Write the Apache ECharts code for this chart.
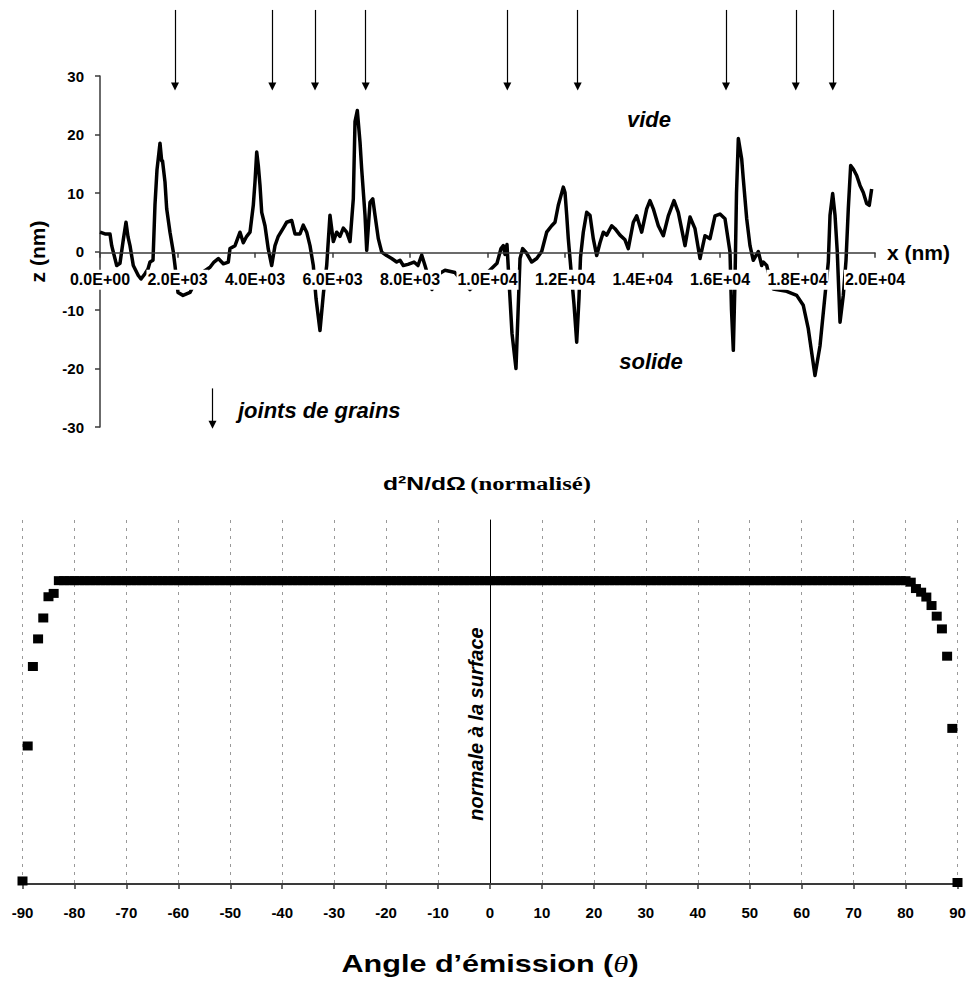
<!DOCTYPE html>
<html><head><meta charset="utf-8">
<script src="https://cdn.jsdelivr.net/npm/echarts@6/dist/echarts.min.js"></script>
<style>html,body{margin:0;padding:0;background:#fff}#c{width:970px;height:982px}</style>
</head><body><div id="c"></div>
<script>
// ---- Top chart: surface profile z(x) ----
const profileX = [
  0,129,258,302,431,516,601,671,723,774,
  859,988,1058,1161,1239,1290,1368,1419,1471,1523,
  1548,1592,1613,1677,1721,1806,1892,1935,2013,2142,
  2323,2477,2658,2839,2942,3053,3182,3311,3355,3484,
  3613,3698,3786,3871,3956,4000,4044,4085,4129,4173,
  4258,4343,4431,4516,4601,4730,4818,4947,5032,5161,
  5246,5334,5419,5505,5574,5677,5768,5850,5935,6021,
  6108,6193,6279,6366,6452,6537,6581,6640,6710,6753,
  6839,6883,6968,7039,7097,7182,7270,7398,7527,7656,
  7742,7827,7948,8103,8206,8302,8387,8568,8697,8903,
  9161,9342,9548,9755,10013,10245,10348,10408,10451,10503,
  10555,10632,10735,10839,10908,11011,11141,11270,11398,11527,
  11656,11742,11827,11956,12000,12044,12085,12129,12232,12302,
  12361,12400,12472,12560,12645,12730,12818,12903,12988,13076,
  13205,13290,13419,13548,13633,13763,13850,13979,14108,14193,
  14279,14408,14537,14666,14813,14924,15097,15226,15355,15484,
  15613,15742,15871,16000,16129,16258,16297,16344,16387,16426,
  16473,16560,16601,16689,16774,16859,16988,17076,17117,17205,
  17246,17375,17721,17979,18149,18278,18451,18581,18710,18795,
  18839,18908,18968,19026,19097,19182,19252,19311,19372,19440,
  19527,19613,19698,19785,19852,19914
];
const profileZ = [
  3.3,3.0,3.0,1.0,-2.4,-2.0,2.0,5.0,2.5,1.0,
  -2.4,-4.1,-4.7,-3.8,-3.0,-1.8,-1.5,8.0,14.0,17.0,
  18.5,15.5,15.5,11.9,7.3,3.3,-0.1,-2.4,-7.0,-7.5,
  -7.0,-5.0,-3.5,-2.7,-1.8,-1.2,-2.1,-1.8,0.5,1.0,
  3.3,1.5,2.6,3.3,7.9,11.9,17.0,14.7,11.3,6.7,
  4.4,0.4,-2.4,1.0,2.6,4.0,5.0,5.3,3.0,3.0,
  4.5,3.3,1.0,-2.4,-8.0,-13.5,-7.0,-2.4,6.2,1.7,
  3.3,2.6,4.0,3.3,1.7,9.0,22.2,24.1,18.7,14.1,
  6.2,0.2,8.4,9.0,6.2,2.2,-0.1,-0.7,-1.2,-1.8,
  -1.5,-2.4,-2.2,-1.8,-2.4,-0.6,-2.4,-6.5,-4.0,-3.2,
  -3.6,-5.0,-6.5,-5.0,-3.5,-2.0,0.5,1.0,-0.5,1.2,
  -5.0,-14.0,-20.0,-1.2,0.5,-0.3,-1.8,-1.2,0.0,3.3,
  4.4,5.0,7.9,11.0,10.1,6.2,2.2,-1.2,-9.0,-15.5,
  -8.0,-1.0,3.3,6.7,6.2,2.2,-0.7,1.5,3.3,2.8,
  4.4,3.9,2.8,2.0,0.5,5.0,6.1,3.3,7.3,8.7,
  7.3,4.4,2.7,6.1,8.7,6.7,1.0,5.9,3.9,-1.2,
  2.7,2.2,6.1,6.4,5.6,-0.1,-10,-16.9,-5,10,
  19.3,15.8,12.4,5.6,1.0,-1.5,0.0,-2.4,-1.8,-2.4,
  -3.5,-6.4,-6.8,-7.5,-9.2,-13.2,-21.2,-16.1,-7.5,-1.8,
  6.2,9.9,6.2,0.0,-12.1,-7.5,-1.5,7.3,14.7,14.1,
  13.0,11.3,10.1,8.2,7.9,10.7
];
const xTickLabels = ['0.0E+00','2.0E+03','4.0E+03','6.0E+03','8.0E+03','1.0E+04','1.2E+04','1.4E+04','1.6E+04','1.8E+04','2.0E+04'];
// grain-boundary arrows (x positions, nm)
const arrowX = [1935, 4446, 5548, 6856, 10511, 12328, 16155, 17955, 18910];
const arrowTopZ = 41.3, arrowTipZ = 28.2;
const legendArrowX = 2903, legendArrowTopZ = -23.4, legendArrowTipZ = -29.6;

// ---- Bottom chart: angular distribution ----
const angles = [
  -90,-89,-88,-87,-86,-85,-84,-83,-82,-81,-80,-79,-78,-77,-76,-75,-74,-73,-72,-71,
  -70,-69,-68,-67,-66,-65,-64,-63,-62,-61,-60,-59,-58,-57,-56,-55,-54,-53,-52,-51,
  -50,-49,-48,-47,-46,-45,-44,-43,-42,-41,-40,-39,-38,-37,-36,-35,-34,-33,-32,-31,
  -30,-29,-28,-27,-26,-25,-24,-23,-22,-21,-20,-19,-18,-17,-16,-15,-14,-13,-12,-11,
  -10,-9,-8,-7,-6,-5,-4,-3,-2,-1,0,1,2,3,4,5,6,7,8,9,
  10,11,12,13,14,15,16,17,18,19,20,21,22,23,24,25,26,27,28,29,
  30,31,32,33,34,35,36,37,38,39,40,41,42,43,44,45,46,47,48,49,
  50,51,52,53,54,55,56,57,58,59,60,61,62,63,64,65,66,67,68,69,
  70,71,72,73,74,75,76,77,78,79,80,81,82,83,84,85,86,87,88,89,
  90
];
const intensity = [
  0.01,0.455,0.717,0.808,0.877,0.947,0.958,1,1,1,1,1,1,1,1,1,1,1,1,1,
  1,1,1,1,1,1,1,1,1,1,1,1,1,1,1,1,1,1,1,1,
  1,1,1,1,1,1,1,1,1,1,1,1,1,1,1,1,1,1,1,1,
  1,1,1,1,1,1,1,1,1,1,1,1,1,1,1,1,1,1,1,1,
  1,1,1,1,1,1,1,1,1,1,1,1,1,1,1,1,1,1,1,1,
  1,1,1,1,1,1,1,1,1,1,1,1,1,1,1,1,1,1,1,1,
  1,1,1,1,1,1,1,1,1,1,1,1,1,1,1,1,1,1,1,1,
  1,1,1,1,1,1,1,1,1,1,1,1,1,1,1,1,1,1,1,1,
  1,1,1,1,1,1,1,1,1,1,1,0.995,0.974,0.962,0.946,0.918,0.883,0.841,0.751,0.513,
  0.005
];

const F = '"Liberation Sans", Arial, sans-serif';
const SERIF = '"Liberation Serif", "Times New Roman", serif';
const chart = echarts.init(document.getElementById('c'), null, {renderer: 'svg'});
const axisGray = '#3a3a3a';

const option = {
  animation: false,
  backgroundColor: '#fff',
  grid: [
    {left: 100, right: 95, top: 76, height: 351},      // profile plot
    {left: 100, right: 95, top: 0, height: 427},       // arrows overlay
    {left: 22.5, right: 12.5, top: 520, height: 364},  // angular distribution
    {left: 100, right: 95, top: 76, height: 176.7}     // x axis of profile drawn at z = 0
  ],
  xAxis: [
    {gridIndex: 0, type: 'value', min: 0, max: 20000, interval: 2000, show: false},
    {gridIndex: 1, type: 'value', min: 0, max: 20000, show: false},
    {gridIndex: 2, type: 'value', min: -90, max: 90, interval: 10,
     axisLine: {onZero: false, lineStyle: {color: axisGray, width: 2}},
     axisTick: {show: true, length: 5, lineStyle: {color: axisGray, width: 1.5}},
     axisLabel: {margin: 21, color: '#000', fontWeight: 'bold', fontSize: 15, fontFamily: F},
     splitLine: {show: true, lineStyle: {color: '#999', type: [3, 5], width: 1}}},
    {gridIndex: 3, type: 'value', min: 0, max: 20000, interval: 2000, z: 10,
     axisLine: {show: true, onZero: false, lineStyle: {color: axisGray, width: 1.5}},
     axisTick: {show: true, length: 5, lineStyle: {color: axisGray, width: 1.5}},
     axisLabel: {margin: 17, formatter: v => xTickLabels[Math.round(v / 2000)], color: '#000',
                 fontWeight: 'bold', fontSize: 16, fontFamily: F, backgroundColor: '#fff', padding: [2, 1]},
     splitLine: {show: false},
     name: 'x (nm)', nameLocation: 'end', nameGap: 12,
     nameTextStyle: {color: '#000', fontWeight: 'bold', fontSize: 21, fontFamily: F}}
  ],
  yAxis: [
    {gridIndex: 0, type: 'value', min: -30, max: 30, interval: 10,
     axisLine: {show: true, onZero: false, lineStyle: {color: axisGray, width: 1.5}},
     axisTick: {show: true, length: 5, lineStyle: {color: axisGray, width: 1.5}},
     axisLabel: {margin: 16, color: '#000', fontWeight: 'bold', fontSize: 15, fontFamily: F},
     splitLine: {show: false},
     name: 'z (nm)', nameLocation: 'middle', nameRotate: 90, nameGap: 52,
     nameTextStyle: {color: '#000', fontWeight: 'bold', fontSize: 21, fontFamily: F}},
    {gridIndex: 1, type: 'value', min: -30, max: 43, show: false},
    {gridIndex: 2, type: 'value', min: 0, max: 1.2,
     axisLine: {show: true, onZero: true, lineStyle: {color: '#000', width: 1}},
     axisTick: {show: false}, axisLabel: {show: false}, splitLine: {show: false}},
    {gridIndex: 3, type: 'value', min: 0, max: 30, show: false}
  ],
  series: [
    {type: 'line', xAxisIndex: 0, yAxisIndex: 0, silent: true, z: 2,
     data: profileX.map((x, i) => [x, profileZ[i]]),
     showSymbol: false, symbol: 'none',
     lineStyle: {color: '#000', width: 3.5, join: 'round'}},
    {type: 'line', xAxisIndex: 1, yAxisIndex: 1, silent: true, symbol: 'none', data: [],
     markLine: {silent: true, symbol: ['none', 'triangle'], symbolSize: 8,
       label: {show: false}, emphasis: {disabled: true},
       lineStyle: {color: '#000', width: 1.2, type: 'solid'},
       data: arrowX.map(x => [{coord: [x, arrowTopZ]}, {coord: [x, arrowTipZ]}])
         .concat([[{coord: [legendArrowX, legendArrowTopZ]}, {coord: [legendArrowX, legendArrowTipZ]}]])}},
    {type: 'scatter', xAxisIndex: 2, yAxisIndex: 2, silent: true, clip: false,
     data: angles.map((a, i) => [a, intensity[i]]),
     symbol: 'rect', symbolSize: [10, 9], itemStyle: {color: '#000', opacity: 1}}
  ],
  graphic: [
    {type: 'text', x: 649, y: 119, silent: true,
     style: {text: 'vide', font: 'italic bold 22px ' + F, fill: '#000', align: 'center', verticalAlign: 'middle'}},
    {type: 'text', x: 651, y: 361, silent: true,
     style: {text: 'solide', font: 'italic bold 22px ' + F, fill: '#000', align: 'center', verticalAlign: 'middle'}},
    {type: 'text', x: 238, y: 410, silent: true,
     style: {text: 'joints de grains', font: 'italic bold 22px ' + F, fill: '#000', align: 'left', verticalAlign: 'middle'}},
    {type: 'text', x: 487, y: 484, scaleX: 1.3, silent: true,
     style: {text: '{s|d²N/dΩ} {t|(normalisé)}', align: 'center', verticalAlign: 'middle',
       rich: {s: {fontFamily: F, fontWeight: 'bold', fontSize: 19, fill: '#000'},
              t: {fontFamily: SERIF, fontWeight: 'bold', fontSize: 19, fill: '#000'}}}},
    {type: 'text', x: 476, y: 724, rotation: Math.PI / 2, silent: true,
     style: {text: 'normale à la surface', font: 'italic bold 20px ' + F, fill: '#000', align: 'center', verticalAlign: 'middle'}},
    {type: 'text', x: 490, y: 964, scaleX: 1.33, silent: true,
     style: {text: '{a|Angle d’émission (}{b|θ}{a|)}', align: 'center', verticalAlign: 'middle',
       rich: {a: {fontFamily: F, fontWeight: 'bold', fontSize: 23, fill: '#000'},
              b: {fontFamily: SERIF, fontStyle: 'italic', fontSize: 23, fill: '#000'}}}}
  ]
};
chart.setOption(option);
</script>
</body></html>
